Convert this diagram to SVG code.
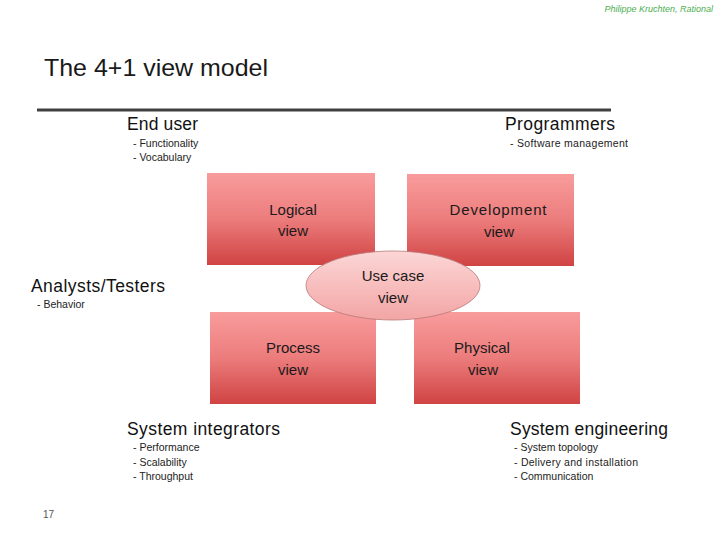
<svg xmlns="http://www.w3.org/2000/svg" width="720" height="540" viewBox="0 0 720 540">
<defs>
<linearGradient id="boxg" x1="0" y1="0" x2="0" y2="1">
<stop offset="0" stop-color="#f99c9c"/>
<stop offset="0.5" stop-color="#ec7c7c"/>
<stop offset="1" stop-color="#d04343"/>
</linearGradient>
<linearGradient id="ellg" x1="0" y1="0" x2="0" y2="1">
<stop offset="0" stop-color="#fcd6d6"/>
<stop offset="1" stop-color="#f3a5a5"/>
</linearGradient>
<style>
.box{fill:url(#boxg);}
.lbl{font-family:"Liberation Sans",Arial,sans-serif;font-size:15px;fill:#1a1a1a;text-anchor:middle;}
.role{font-family:"Liberation Sans",Arial,sans-serif;font-size:17.5px;fill:#111;}
.item{font-family:"Liberation Sans",Arial,sans-serif;font-size:10.5px;fill:#222;}
</style>
</defs>
<rect width="720" height="540" fill="#ffffff"/>
<text x="713" y="12" text-anchor="end" font-family="Liberation Sans,Arial,sans-serif" font-size="9" font-style="italic" fill="#4caf50">Philippe Kruchten, Rational</text>
<text x="44" y="76" font-family="Liberation Sans,Arial,sans-serif" font-size="24" fill="#1a1a1a" textLength="224" lengthAdjust="spacingAndGlyphs">The 4+1 view model</text>
<line x1="37" y1="110" x2="611" y2="110" stroke="#404040" stroke-width="3"/>

<g id="end-user">
<text class="role" x="127" y="130" textLength="71">End user</text>
<text class="item" x="133" y="147">- Functionality</text>
<text class="item" x="133" y="161">- Vocabulary</text>
</g>
<g id="programmers">
<text class="role" x="505" y="130" textLength="110">Programmers</text>
<text class="item" x="510" y="147" textLength="118">- Software management</text>
</g>
<g id="analysts">
<text class="role" x="31" y="292" textLength="134">Analysts/Testers</text>
<text class="item" x="37" y="308">- Behavior</text>
</g>
<g id="integrators">
<text class="role" x="127" y="435" textLength="153">System integrators</text>
<text class="item" x="133" y="451">- Performance</text>
<text class="item" x="133" y="466">- Scalability</text>
<text class="item" x="133" y="480">- Throughput</text>
</g>
<g id="engineering">
<text class="role" x="510" y="435" textLength="158">System engineering</text>
<text class="item" x="514" y="451">- System topology</text>
<text class="item" x="514" y="466" textLength="124">- Delivery and installation</text>
<text class="item" x="514" y="480">- Communication</text>
</g>

<g id="logical-view">
<rect class="box" x="207" y="173" width="168" height="92"/>
<text class="lbl" x="293" y="215">Logical</text>
<text class="lbl" x="293" y="236">view</text>
</g>
<g id="development-view">
<rect class="box" x="407" y="174" width="167" height="92"/>
<text class="lbl" x="498" y="215" textLength="97">Development</text>
<text class="lbl" x="499" y="237">view</text>
</g>
<g id="process-view">
<rect class="box" x="210" y="312" width="166" height="92"/>
<text class="lbl" x="293" y="353">Process</text>
<text class="lbl" x="293" y="375">view</text>
</g>
<g id="physical-view">
<rect class="box" x="414" y="312" width="166" height="92"/>
<text class="lbl" x="482" y="353">Physical</text>
<text class="lbl" x="483" y="375">view</text>
</g>
<g id="use-case-view">
<ellipse cx="393" cy="285.5" rx="87" ry="34.5" fill="url(#ellg)" stroke="#b87878" stroke-width="0.8"/>
<text class="lbl" x="393" y="281">Use case</text>
<text class="lbl" x="393" y="303">view</text>
</g>
<g id="connectors"></g>
<text x="43" y="518" font-family="Liberation Sans,Arial,sans-serif" font-size="10" fill="#555">17</text>
</svg>
